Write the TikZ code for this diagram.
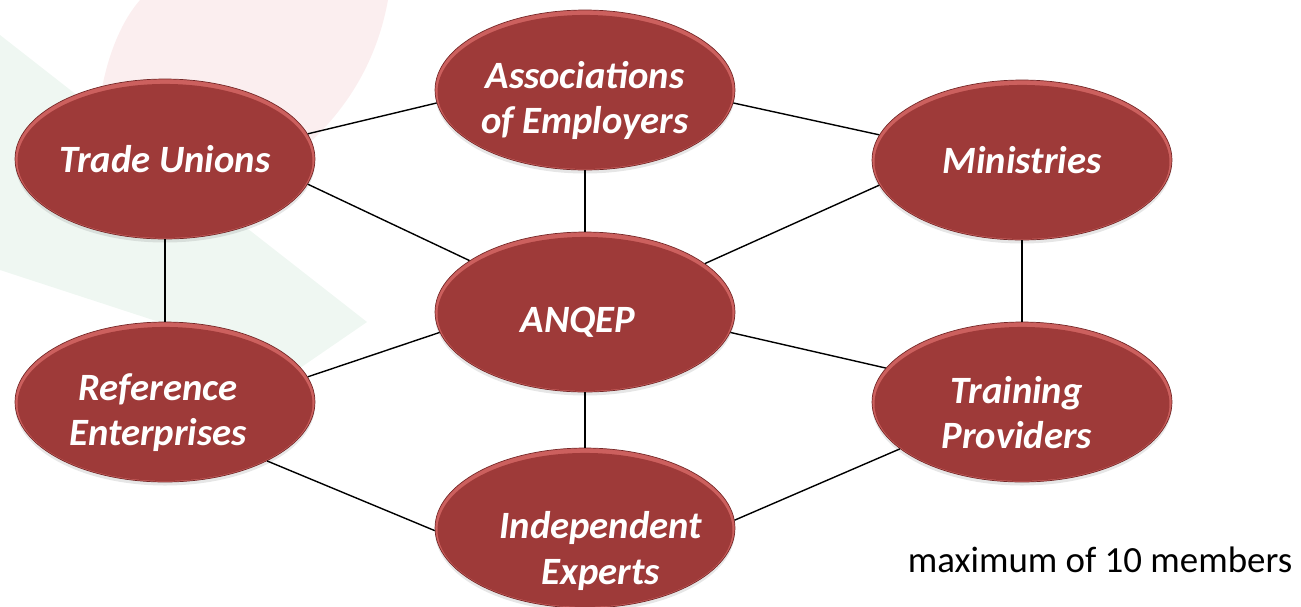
\documentclass[tikz,border=0pt]{standalone}
\usepackage{fontspec}
\setmainfont{Carlito}
\usetikzlibrary{shapes.geometric,shadows}

\definecolor{bodyred}{RGB}{158,58,57}
\definecolor{rimred}{RGB}{204,96,94}
\definecolor{edgered}{RGB}{118,40,40}
\definecolor{markpink}{RGB}{251,238,239}
\definecolor{markgreen}{RGB}{239,247,242}

\tikzset{
  bubble/.style={ellipse, minimum width=6cm, minimum height=3.2cm, inner sep=0pt,
    fill=rimred, draw=edgered, line width=0.4pt,
    path picture={\fill[bodyred] ([yshift=-1.1pt]path picture bounding box.center)
      ellipse (2.95cm and 1.54cm);},
    drop shadow={shadow xshift=0pt, shadow yshift=-2pt, opacity=0.2}},
  lbl/.style={text=white, align=center,
    font=\fontsize{22}{26}\selectfont\bfseries\itshape},
  link/.style={draw=black, line width=0.8pt}
}

\begin{document}
\begin{tikzpicture}[x=0.02cm, y=-0.02cm]
  \useasboundingbox (0,0) rectangle (1301,606);

  % faint logo behind the chart
  \fill[markgreen] (0,35) -- (367,322) -- (300,368) -- (0,270) -- cycle;
  \fill[markpink] (140,0) -- (388,0) .. controls (370,100) and (300,170) .. (200,210)
    -- (100,180) .. controls (90,120) and (105,40) .. (140,0) -- cycle;

  % members
  \node[bubble, label={[lbl]center:Trade Unions}] (tu) at (165,159) {};
  \node[bubble, label={[lbl, yshift=-6pt]center:{Associations\\of Employers}}] (ae) at (585,90) {};
  \node[bubble, label={[lbl]center:Ministries}] (mi) at (1022,160) {};
  \node[bubble, label={[lbl, xshift=-4pt, yshift=-6pt]center:ANQEP}] (aq) at (585,312) {};
  \node[bubble, label={[lbl, xshift=-4pt, yshift=-6pt]center:{Reference\\Enterprises}}] (re) at (165,402) {};
  \node[bubble, label={[lbl, xshift=-3pt, yshift=-6pt]center:{Training\\Providers}}] (tp) at (1022,402) {};
  \node[bubble, label={[lbl, xshift=9pt, yshift=-13pt]center:{Independent\\Experts}}] (ie) at (585,528) {};

  % links
  \draw[link] (tu.10) -- (ae.185);
  \draw[link] (tu.-10) -- (aq.156);
  \draw[link] (ae.355) -- (mi.170);
  \draw[link] (mi.190) -- (aq.22);
  \draw[link] (tu.south) -- (re.north);
  \draw[link] (ae.south) -- (aq.north);
  \draw[link] (mi.south) -- (tp.north);
  \draw[link] (aq.188) -- (re.10);
  \draw[link] (aq.352) -- (tp.166);
  \draw[link] (aq.south) -- (ie.north);
  \draw[link] (re.330) -- (ie.181);
  \draw[link] (tp.201) -- (ie.3);

  \node[font=\fontsize{21}{25}\selectfont] (note) at (1100,560) {maximum of 10 members};
\end{tikzpicture}
\end{document}
